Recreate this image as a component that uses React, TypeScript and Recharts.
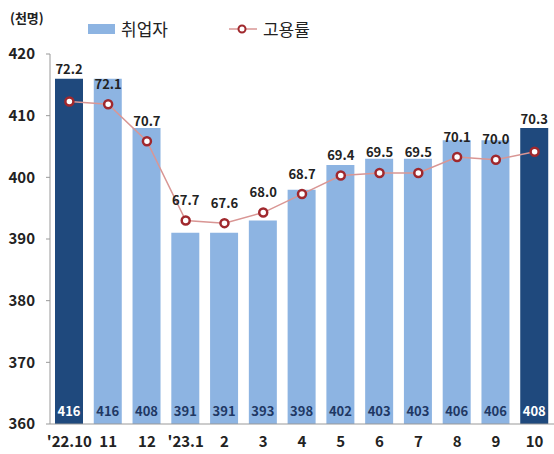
import React from 'react';
import { ComposedChart, Bar, Line, XAxis, YAxis, Cell, LabelList } from 'recharts';

const categories = ["'22.10", '11', '12', "'23.1", '2', '3', '4', '5', '6', '7', '8', '9', '10'];
const employed = [416, 416, 408, 391, 391, 393, 398, 402, 403, 403, 406, 406, 408];
const rate = [72.2, 72.1, 70.7, 67.7, 67.6, 68.0, 68.7, 69.4, 69.5, 69.5, 70.1, 70.0, 70.3];
const highlighted = [true, false, false, false, false, false, false, false, false, false, false, false, true];
const yTicks = [360, 370, 380, 390, 400, 410, 420];

const data = categories.map((c, i) => ({ name: c, employed: employed[i], rate: rate[i], hl: highlighted[i] }));

const DARK = '#1F497D';
const LIGHT = '#8DB4E2';
const FONT = '"Noto Sans CJK KR", "Noto Sans", sans-serif';

const BarBottomLabel = (props: any) => {
  const { x, y, width, height, value, index } = props;
  const hl = highlighted[index];
  return (
    <text x={x + width / 2} y={y + height - 12} textAnchor="middle" dominantBaseline="middle"
      fontSize={13} fontWeight={700} fontFamily={FONT} fill={hl ? '#ffffff' : '#1F3864'}>
      {value}
    </text>
  );
};

// rate label above highlighted bars
const BarTopRateLabel = (props: any) => {
  const { x, y, width, index } = props;
  if (!highlighted[index]) return null;
  return (
    <text x={x + width / 2} y={y - 8} textAnchor="middle" dominantBaseline="middle"
      fontSize={13} fontWeight={700} fontFamily={FONT} fill="#222">
      {rate[index].toFixed(1)}
    </text>
  );
};

// rate label above the line point for other months
const RateLabel = (props: any) => {
  const { x, y, value, index } = props;
  if (highlighted[index]) return null;
  return (
    <text x={x} y={y - 19} textAnchor="middle" dominantBaseline="middle"
      fontSize={13} fontWeight={700} fontFamily={FONT} fill="#222">
      {Number(value).toFixed(1)}
    </text>
  );
};

export default function App() {
  return (
    <div style={{ position: 'absolute', left: 0, top: 0, width: 554, height: 454, background: '#fff', fontFamily: FONT }}>
      <div style={{ position: 'absolute', left: 10, top: 8, fontSize: 13, fontWeight: 700, color: '#222' }}>(천명)</div>
      <div style={{ position: 'absolute', left: 88, top: 16, display: 'flex', alignItems: 'center', fontSize: 17, color: '#222' }}>
        <span style={{ display: 'inline-block', width: 27, height: 10, background: LIGHT, marginRight: 6 }} />
        <span>취업자</span>
        <svg width={28} height={12} style={{ marginLeft: 61, marginRight: 6 }}>
          <line x1={0} y1={6} x2={28} y2={6} stroke="#D99694" strokeWidth={1.5} />
          <circle cx={13} cy={6} r={3.5} fill="#fff" stroke="#A0282D" strokeWidth={2} />
        </svg>
        <span>고용률</span>
      </div>
      <ComposedChart width={554} height={454} data={data} margin={{ top: 54, right: 0, bottom: 0, left: 0 }}>
        <XAxis dataKey="name" height={30} axisLine={{ stroke: '#999' }} tickLine={false} tickMargin={6}
          tick={{ fontSize: 15, fontWeight: 700, fill: '#222', fontFamily: FONT }} interval={0} />
        <YAxis yAxisId="left" width={50} domain={[360, 420]} ticks={yTicks} axisLine={{ stroke: '#999' }}
          tickLine={{ stroke: '#999' }} tickSize={4} tickMargin={11}
          tick={{ fontSize: 15, fontWeight: 700, fill: '#222', fontFamily: FONT }} />
        <YAxis yAxisId="right" orientation="right" hide domain={[60, 74]} />
        <Bar yAxisId="left" dataKey="employed" barSize={28} isAnimationActive={false}>
          {data.map((d, i) => (
            <Cell key={i} fill={d.hl ? DARK : LIGHT} />
          ))}
          <LabelList dataKey="employed" content={BarBottomLabel} />
          <LabelList dataKey="rate" content={BarTopRateLabel} />
        </Bar>
        <Line yAxisId="right" dataKey="rate" stroke="#D99694" strokeWidth={1.5} isAnimationActive={false}
          dot={{ r: 4, fill: '#fff', stroke: '#A0282D', strokeWidth: 2.5 }}>
          <LabelList dataKey="rate" content={RateLabel} />
        </Line>
      </ComposedChart>
    </div>
  );
}
